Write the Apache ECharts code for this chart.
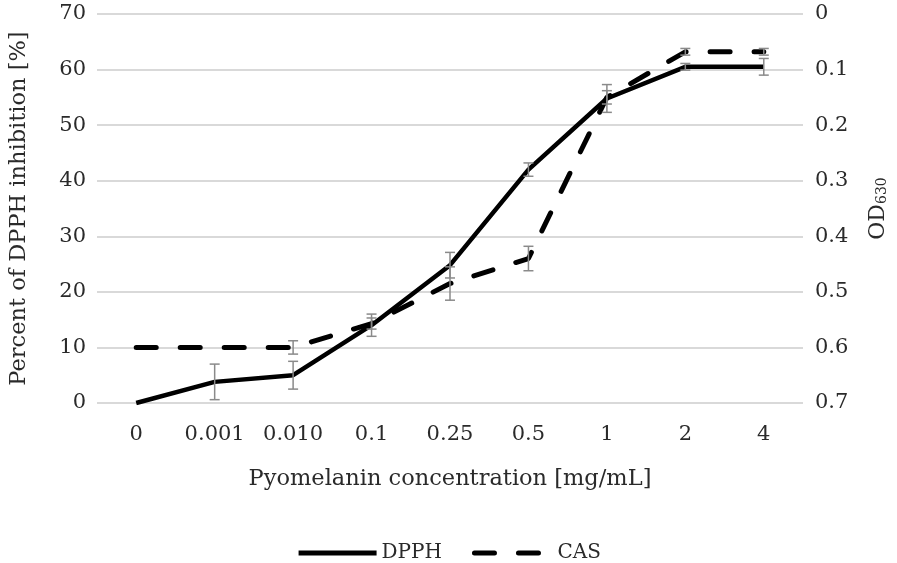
<!DOCTYPE html>
<html><head><meta charset="utf-8">
<script src="https://cdn.jsdelivr.net/npm/echarts@6/dist/echarts.min.js"></script>
<style>html,body{margin:0;padding:0;background:#fff}#c{width:897px;height:563px}</style>
</head><body><div id="c"></div>
<script>
const categories = ['0','0.001','0.010','0.1','0.25','0.5','1','2','4'];
const dpph = [0, 3.8, 5.0, 14.0, 24.8, 42.0, 54.8, 60.5, 60.5];
const dpphErr = [0, 3.2, 2.5, 2.0, 2.3, 1.2, 2.5, 0.6, 1.5];
const cas = [0.6, 0.6, 0.6, 0.557, 0.485, 0.44, 0.15, 0.068, 0.068];
const casErr = [0, 0, 0.012, 0.01, 0.03, 0.022, 0.012, 0.006, 0.006];
const leftTicks = {min: 0, max: 70, interval: 10};
const rightTicks = {min: 0, max: 0.7, interval: 0.1};

const font = 'DejaVu Serif';
const txt = '#2a2a2a';
const errColor = '#8a8a8a';

function errSeries(vals, errs, axisIdx) {
  return {
    type: 'custom', yAxisIndex: axisIdx, silent: true, z: 5,
    data: vals.map((v, i) => [i, v - errs[i], v + errs[i]]),
    renderItem: function (params, api) {
      if (api.value(2) - api.value(1) === 0) return null;
      const lo = api.coord([api.value(0), api.value(1)]);
      const hi = api.coord([api.value(0), api.value(2)]);
      const w = 5;
      const st = {stroke: errColor, lineWidth: 1.5};
      return {type: 'group', children: [
        {type: 'line', shape: {x1: lo[0], y1: lo[1], x2: hi[0], y2: hi[1]}, style: st},
        {type: 'line', shape: {x1: lo[0]-w, y1: lo[1], x2: lo[0]+w, y2: lo[1]}, style: st},
        {type: 'line', shape: {x1: hi[0]-w, y1: hi[1], x2: hi[0]+w, y2: hi[1]}, style: st}
      ]};
    }
  };
}

const chart = echarts.init(document.getElementById('c'), null, {renderer: 'canvas'});
chart.setOption({
  animation: false,
  textStyle: {fontFamily: font},
  grid: {left: 93, right: 92, top: 14, bottom: 160, containLabel: false},
  legend: {
    data: ['DPPH', 'CAS'], top: 538, left: 'center', itemWidth: 78, itemHeight: 10, itemGap: 30,
    itemStyle: {opacity: 0},
    lineStyle: {width: 5},
    textStyle: {fontFamily: font, fontSize: 20, color: txt}
  },
  xAxis: {
    type: 'category', data: categories, boundaryGap: true,
    axisLine: {show: false}, axisTick: {show: false},
    axisLabel: {fontFamily: font, fontSize: 21, color: txt, margin: 21},
    name: 'Pyomelanin concentration [mg/mL]', nameLocation: 'middle', nameGap: 65,
    nameTextStyle: {fontFamily: font, fontSize: 22.5, color: txt}
  },
  yAxis: [{
    type: 'value', min: leftTicks.min, max: leftTicks.max, interval: leftTicks.interval,
    axisLine: {show: false}, axisTick: {show: false},
    splitLine: {lineStyle: {color: '#d9d9d9', width: 2}},
    axisLabel: {fontFamily: font, fontSize: 21, color: txt, margin: 11},
    name: 'Percent of DPPH inhibition [%]', nameLocation: 'middle', nameGap: 66, nameRotate: 90,
    nameTextStyle: {fontFamily: font, fontSize: 22.5, color: txt}
  }, {
    type: 'value', min: rightTicks.min, max: rightTicks.max, interval: rightTicks.interval, inverse: true,
    axisLine: {show: false}, axisTick: {show: false}, splitLine: {show: false},
    axisLabel: {fontFamily: font, fontSize: 21, color: txt, margin: 12,
      formatter: v => String(Math.round(v * 10) / 10)},
    name: '{a|OD}{b|630}', nameLocation: 'middle', nameGap: 64, nameRotate: 90,
    nameTextStyle: {fontFamily: font, fontSize: 22, color: txt,
      rich: {a: {fontFamily: font, fontSize: 22, color: txt},
             b: {fontFamily: font, fontSize: 14, color: txt, verticalAlign: 'bottom', padding: [8, 0, 0, 0]}}}
  }],
  series: [
    {name: 'DPPH', type: 'line', data: dpph, yAxisIndex: 0, showSymbol: false, symbol: 'none',
     lineStyle: {color: '#000', width: 4.5}, itemStyle: {color: '#000'}, z: 3},
    {name: 'CAS', type: 'line', data: cas, yAxisIndex: 1, showSymbol: false, symbol: 'none',
     lineStyle: {color: '#000', width: 5, type: [20, 24], cap: 'round'}, itemStyle: {color: '#000'}, z: 3},
    errSeries(dpph, dpphErr, 0),
    errSeries(cas, casErr, 1)
  ]
});
</script></body></html>
